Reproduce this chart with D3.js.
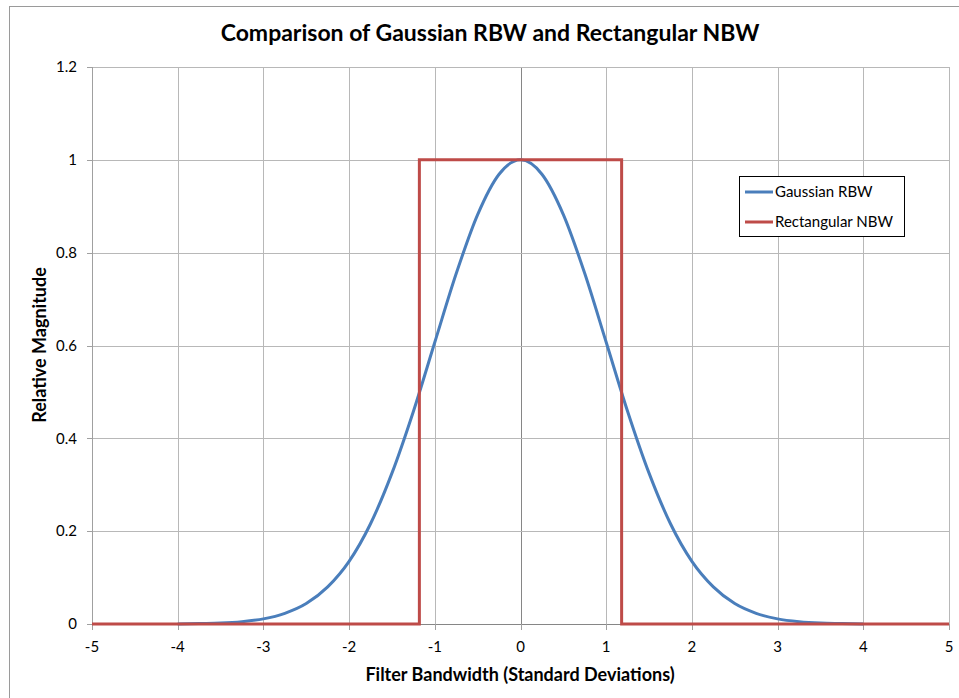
<!DOCTYPE html>
<html>
<head>
<meta charset="utf-8">
<script src="https://cdn.jsdelivr.net/npm/d3@7"></script>
<style>
  body { margin: 0; background: #fff; }
  text { font-family: Lato, "Open Sans", sans-serif; fill: #000; }
</style>
</head>
<body>
<div id="chart"></div>
<script>
// values
const gauss_x = [-4, -3.75, -3.5, -3.25, -3, -2.75, -2.5, -2.25, -2, -1.75, -1.5, -1.25, -1, -0.75, -0.5, -0.25,
  0, 0.25, 0.5, 0.75, 1, 1.25, 1.5, 1.75, 2, 2.25, 2.5, 2.75, 3, 3.25, 3.5, 3.75, 4];
const gauss_y = [0.000, 0.001, 0.002, 0.005, 0.011, 0.023, 0.044, 0.080, 0.135, 0.216, 0.325, 0.458, 0.607, 0.755, 0.882, 0.969,
  1.000, 0.969, 0.882, 0.755, 0.607, 0.458, 0.325, 0.216, 0.135, 0.080, 0.044, 0.023, 0.011, 0.005, 0.002, 0.001, 0.000];
const rect_x = [-5, -1.18, -1.18, 1.18, 1.18, 5];
const rect_y = [0, 0, 1, 1, 0, 0];
const x_ticks = [-5, -4, -3, -2, -1, 0, 1, 2, 3, 4, 5];
const y_ticks = [0, 0.2, 0.4, 0.6, 0.8, 1, 1.2];
const series_names = ["Gaussian RBW", "Rectangular NBW"];
const series_colors = ["#4a7ebb", "#be4b48"];

const W = 959, H = 698;
const plot = {left: 92, right: 949, top: 67, bottom: 624};

var svg = d3.select("#chart").append("svg")
  .attr("width", W)
  .attr("height", H);

svg.append("rect").attr("width", W).attr("height", H).attr("fill", "#fff");

// outer chart frame
svg.append("rect")
  .attr("x", 9.5).attr("y", 6.5)
  .attr("width", 980).attr("height", 720)
  .attr("fill", "none")
  .attr("stroke", "#9a9a9a");

var x = d3.scaleLinear().domain([-5, 5]).range([plot.left, plot.right]);
var y = d3.scaleLinear().domain([0, 1.2]).range([plot.bottom, plot.top]);

// gridlines
svg.append("g").selectAll("line")
  .data(x_ticks)
  .enter().append("line")
    .attr("x1", d => Math.round(x(d)) + 0.5)
    .attr("x2", d => Math.round(x(d)) + 0.5)
    .attr("y1", plot.top)
    .attr("y2", plot.bottom)
    .attr("stroke", d => d == 0 ? "#868686" : "#b8b8b8");

svg.append("g").selectAll("line")
  .data(y_ticks)
  .enter().append("line")
    .attr("x1", plot.left)
    .attr("x2", plot.right)
    .attr("y1", d => Math.round(y(d)) + 0.5)
    .attr("y2", d => Math.round(y(d)) + 0.5)
    .attr("stroke", d => d == 0 ? "#868686" : "#b8b8b8");

// y axis line + ticks
svg.append("line")
  .attr("x1", plot.left + 0.5).attr("x2", plot.left + 0.5)
  .attr("y1", plot.top).attr("y2", plot.bottom)
  .attr("stroke", "#a0a0a0");
svg.append("g").selectAll("line")
  .data(y_ticks)
  .enter().append("line")
    .attr("x1", plot.left - 5).attr("x2", plot.left)
    .attr("y1", d => Math.round(y(d)) + 0.5)
    .attr("y2", d => Math.round(y(d)) + 0.5)
    .attr("stroke", "#a0a0a0");
// x axis ticks
svg.append("g").selectAll("line")
  .data(x_ticks)
  .enter().append("line")
    .attr("x1", d => Math.round(x(d)) + 0.5)
    .attr("x2", d => Math.round(x(d)) + 0.5)
    .attr("y1", plot.bottom)
    .attr("y2", plot.bottom + 6)
    .attr("stroke", "#a0a0a0");

// tick labels
svg.append("g").selectAll("text")
  .data(y_ticks)
  .enter().append("text")
    .attr("x", 77)
    .attr("y", d => y(d))
    .attr("dy", "0.35em")
    .attr("text-anchor", "end")
    .style("font-size", "15px")
    .text(d => d3.format("~g")(d));

svg.append("g").selectAll("text")
  .data(x_ticks)
  .enter().append("text")
    .attr("x", d => x(d))
    .attr("y", 652)
    .attr("text-anchor", "middle")
    .style("font-size", "15px")
    .text(d => d);

// series
var line = d3.line().x(d => x(d[0])).y(d => y(d[1]));

svg.append("path")
  .datum(d3.zip(gauss_x, gauss_y))
  .attr("d", line.curve(d3.curveMonotoneX))
  .attr("fill", "none")
  .attr("stroke", series_colors[0])
  .attr("stroke-width", 3);

svg.append("path")
  .datum(d3.zip(rect_x, rect_y))
  .attr("d", d3.line().x(d => x(d[0])).y(d => y(d[1])))
  .attr("fill", "none")
  .attr("stroke", series_colors[1])
  .attr("stroke-width", 3);

// titles
svg.append("text")
  .attr("x", 490).attr("y", 41)
  .attr("text-anchor", "middle")
  .style("font-size", "23px").style("font-weight", "bold")
  .text("Comparison of Gaussian RBW and Rectangular NBW");

svg.append("text")
  .attr("x", 520).attr("y", 681)
  .attr("text-anchor", "middle")
  .style("font-size", "18px").style("font-weight", "bold")
  .text("Filter Bandwidth (Standard Deviations)");

svg.append("text")
  .attr("transform", "translate(46,345) rotate(-90)")
  .attr("text-anchor", "middle")
  .style("font-size", "18px").style("font-weight", "bold")
  .text("Relative Magnitude");

// legend
var legend = svg.append("g");
legend.append("rect")
  .attr("x", 739.5).attr("y", 176.5)
  .attr("width", 165).attr("height", 60)
  .attr("fill", "#fff")
  .attr("stroke", "#000");
var items = legend.selectAll("g.item")
  .data(series_names)
  .enter().append("g")
    .attr("class", "item")
    .attr("transform", (d, i) => "translate(745," + (192 + i * 30) + ")");
items.append("line")
  .attr("x1", 0).attr("x2", 28)
  .attr("stroke", (d, i) => series_colors[i])
  .attr("stroke-width", 3);
items.append("text")
  .attr("x", 30)
  .attr("dy", "0.35em")
  .style("font-size", "15px")
  .text(d => d);
</script>
</body>
</html>
